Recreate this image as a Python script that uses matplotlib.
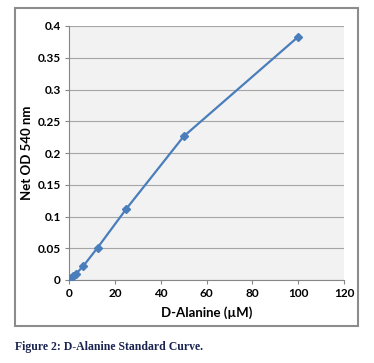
import matplotlib

matplotlib.use("Agg")
import matplotlib.pyplot as plt
from matplotlib.patches import Rectangle

# D-Alanine standard curve
conc_um = [0, 0.78, 1.56, 3.125, 6.25, 12.5, 25, 50, 100]
net_od = [0.0, 0.003, 0.006, 0.010, 0.022, 0.051, 0.112, 0.226, 0.383]
x_ticks = [0, 20, 40, 60, 80, 100, 120]
y_ticks = [0, 0.05, 0.1, 0.15, 0.2, 0.25, 0.3, 0.35, 0.4]
y_tick_labels = ["0", "0.05", "0.1", "0.15", "0.2", "0.25", "0.3", "0.35", "0.4"]

W, H = 374, 363
fig = plt.figure(figsize=(W / 100, H / 100), dpi=100)
fig.patch.set_facecolor("white")

# chart frame like the Excel chart area
fig.patches.append(Rectangle((15 / W, 1 - 326 / H), 343 / W, 318 / H,
                             transform=fig.transFigure, fill=False,
                             edgecolor="#8c8c8c", linewidth=1.5))

ax = fig.add_axes([69 / W, 1 - 280 / H, 275 / W, 254 / H])
ax.set_facecolor("#f2f2f2")
ax.plot(conc_um, net_od, color="#4a7ebb", linewidth=1.6,
        marker="D", markersize=4.5, zorder=3)

ax.set_xlim(0, 120)
ax.set_ylim(0, 0.4)
ax.set_xticks(x_ticks)
ax.set_yticks(y_ticks)
ax.set_yticklabels(y_tick_labels)
ax.grid(axis="y", color="#a6a6a6", linewidth=0.8)
ax.set_axisbelow(True)
for side in ["top", "right"]:
    ax.spines[side].set_visible(False)
for side in ["left", "bottom"]:
    ax.spines[side].set_color("#868686")
ax.tick_params(axis="both", length=3, color="#868686", labelsize=8.5, pad=3)
for lbl in ax.get_xticklabels() + ax.get_yticklabels():
    lbl.set_fontfamily("Lato")
    lbl.set_fontweight("bold")

ax.set_xlabel("D-Alanine (µM)", fontfamily="Lato", fontweight="bold", fontsize=9.5, labelpad=5)
ax.set_ylabel("Net OD 540 nm", fontfamily="Lato", fontweight="bold", fontsize=9.5, labelpad=3)

fig.text(15 / W, 1 - 347 / H, "Figure 2: D-Alanine Standard Curve.",
         fontfamily="Liberation Serif", fontweight="bold", fontsize=8.5,
         color="#1a2350", va="center", ha="left")

fig.savefig("out.png", dpi=100)
